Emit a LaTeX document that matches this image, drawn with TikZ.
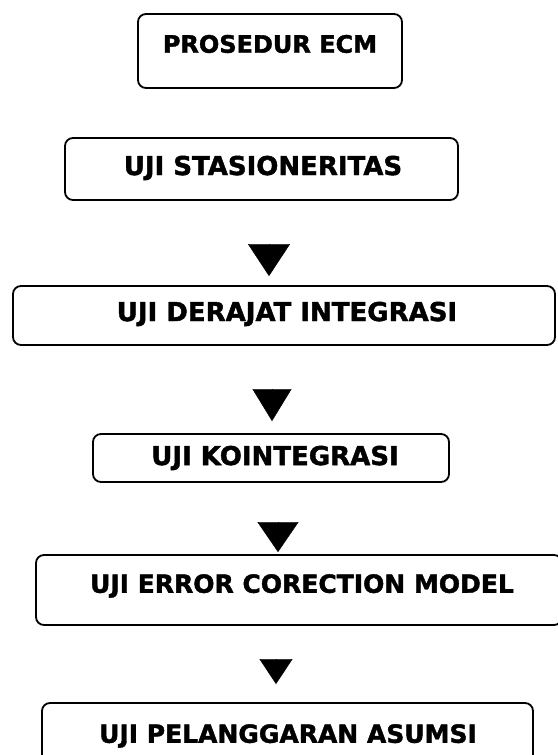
\documentclass[tikz,border=0pt]{standalone}
\usepackage{fontspec}
\setmainfont{DejaVu Sans}
\newfontfamily\heavyfont{DejaVu Sans Bold}[FakeBold=1.6]
\usetikzlibrary{arrows.meta,calc}
\tikzset{
  box/.style={draw=black, line width=1.8pt, rounded corners=8pt, fill=none, inner sep=0pt},
  lbl/.style={font=\heavyfont\fontsize{26}{31}\selectfont, inner sep=0pt, text=black},
  smalllbl/.style={lbl, font=\heavyfont\fontsize{25}{30}\selectfont},
  arr/.style={line width=0.4pt, draw=black}
}
\begin{document}
\begin{tikzpicture}[x=1pt,y=1pt]
\useasboundingbox (0,0) rectangle (557,755);
\fill[white] (0,0) rectangle (557,755);
% boxes
\node[box, minimum width=264pt, minimum height=74pt] (b1) at (270,704) {};
\node[box, minimum width=393pt, minimum height=62pt] (b2) at (261.5,586) {};
\node[box, minimum width=542pt, minimum height=59pt] (b3) at (284,439.5) {};
\node[box, minimum width=356pt, minimum height=48pt] (b4) at (271,297) {};
\node[box, minimum width=526pt, minimum height=70pt] (b5) at (299,165) {};
\node[box, minimum width=491pt, minimum height=62pt] (b6) at (287.5,21) {};
% labels
\node[lbl, font=\heavyfont\fontsize{24}{29}\selectfont] (t1) at (270,711) {PROSEDUR ECM};
\node[lbl] (t2) at (263,587) {UJI STASIONERITAS};
\node[lbl] (t3) at (287,441) {UJI DERAJAT INTEGRASI};
\node[lbl] (t4) at (275,297) {UJI KOINTEGRASI};
\node[smalllbl] (t5) at (302,169) {UJI ERROR CORECTION MODEL};
\node[smalllbl] (t6) at (288,19) {UJI PELANGGARAN ASUMSI};
% arrow columns
\coordinate (a1) at (269,0);
\coordinate (a2) at (272,0);
\coordinate (a3) at (278,0);
\coordinate (a4) at (276,0);
\draw[arr, -{Triangle[width=42pt,length=32pt]}, shorten <=45pt, shorten >=9pt] (b2.south -| a1) -- (b3.north -| a1);
\draw[arr, -{Triangle[width=39pt,length=32pt]}, shorten <=45pt, shorten >=12pt] (b3.south -| a2) -- (b4.north -| a2);
\draw[arr, -{Triangle[width=41pt,length=30pt]}, shorten <=41pt, shorten >=2pt] (b4.south -| a3) -- (b5.north -| a3);
\draw[arr, -{Triangle[width=33pt,length=25pt]}, shorten <=35pt, shorten >=18pt] (b5.south -| a4) -- (b6.north -| a4);
\end{tikzpicture}
\end{document}
